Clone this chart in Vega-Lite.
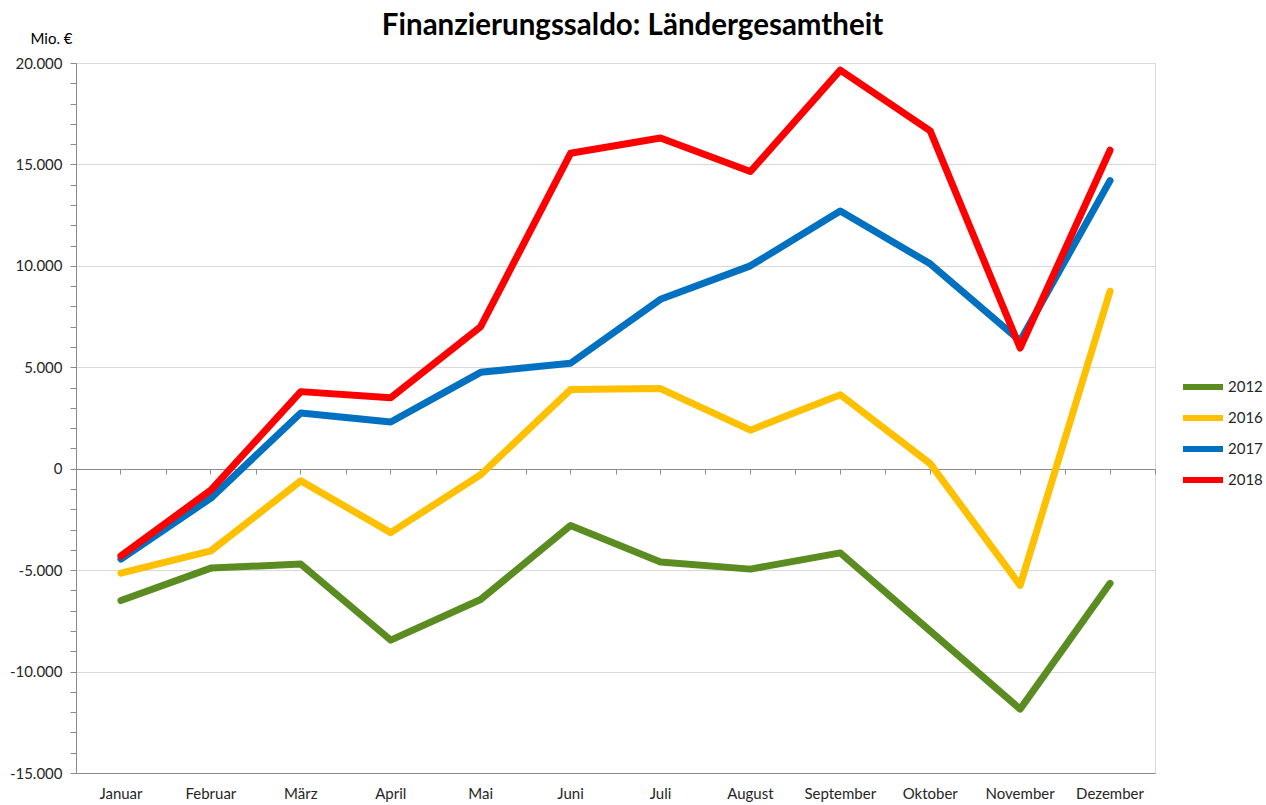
{
  "$schema": "https://vega.github.io/schema/vega-lite/v6.json",
  "width": 1079,
  "height": 710,
  "autosize": {"type": "none"},
  "padding": {"left": 76, "top": 63, "right": 111, "bottom": 32},
  "background": "white",
  "title": {
    "text": "Finanzierungssaldo: Ländergesamtheit",
    "font": "Lato",
    "fontSize": 29.5,
    "fontWeight": "bold",
    "color": "#000000",
    "anchor": "middle",
    "dx": 17,
    "offset": -33,
    "baseline": "alphabetic"
  },
  "config": {
    "view": {"stroke": "#d9d9d9", "strokeWidth": 1},
    "font": "Lato"
  },
  "data": {
    "values": [
      {"month": "Januar", "year": "2012", "value": -6500},
      {"month": "Februar", "year": "2012", "value": -4900},
      {"month": "März", "year": "2012", "value": -4700},
      {"month": "April", "year": "2012", "value": -8450},
      {"month": "Mai", "year": "2012", "value": -6450},
      {"month": "Juni", "year": "2012", "value": -2800},
      {"month": "Juli", "year": "2012", "value": -4600},
      {"month": "August", "year": "2012", "value": -4950},
      {"month": "September", "year": "2012", "value": -4150},
      {"month": "Oktober", "year": "2012", "value": -8000},
      {"month": "November", "year": "2012", "value": -11850},
      {"month": "Dezember", "year": "2012", "value": -5650},
      {"month": "Januar", "year": "2016", "value": -5150},
      {"month": "Februar", "year": "2016", "value": -4050},
      {"month": "März", "year": "2016", "value": -600},
      {"month": "April", "year": "2016", "value": -3150},
      {"month": "Mai", "year": "2016", "value": -300},
      {"month": "Juni", "year": "2016", "value": 3900},
      {"month": "Juli", "year": "2016", "value": 3950},
      {"month": "August", "year": "2016", "value": 1900},
      {"month": "September", "year": "2016", "value": 3650},
      {"month": "Oktober", "year": "2016", "value": 250},
      {"month": "November", "year": "2016", "value": -5750},
      {"month": "Dezember", "year": "2016", "value": 8750},
      {"month": "Januar", "year": "2017", "value": -4450},
      {"month": "Februar", "year": "2017", "value": -1450},
      {"month": "März", "year": "2017", "value": 2750},
      {"month": "April", "year": "2017", "value": 2300},
      {"month": "Mai", "year": "2017", "value": 4750},
      {"month": "Juni", "year": "2017", "value": 5200},
      {"month": "Juli", "year": "2017", "value": 8350},
      {"month": "August", "year": "2017", "value": 10000},
      {"month": "September", "year": "2017", "value": 12700},
      {"month": "Oktober", "year": "2017", "value": 10100},
      {"month": "November", "year": "2017", "value": 6300},
      {"month": "Dezember", "year": "2017", "value": 14200},
      {"month": "Januar", "year": "2018", "value": -4300},
      {"month": "Februar", "year": "2018", "value": -1050},
      {"month": "März", "year": "2018", "value": 3800},
      {"month": "April", "year": "2018", "value": 3500},
      {"month": "Mai", "year": "2018", "value": 7000},
      {"month": "Juni", "year": "2018", "value": 15550},
      {"month": "Juli", "year": "2018", "value": 16300},
      {"month": "August", "year": "2018", "value": 14650},
      {"month": "September", "year": "2018", "value": 19650},
      {"month": "Oktober", "year": "2018", "value": 16650},
      {"month": "November", "year": "2018", "value": 5950},
      {"month": "Dezember", "year": "2018", "value": 15700}
    ]
  },
  "layer": [
    {
      "mark": {"type": "point", "opacity": 0},
      "encoding": {
        "x": {
          "field": "month",
          "type": "nominal",
          "sort": ["Januar", "Februar", "März", "April", "Mai", "Juni", "Juli", "August", "September", "Oktober", "November", "Dezember"],
          "scale": {"type": "band", "paddingInner": 0, "paddingOuter": 0},
          "axis": {
            "orient": "bottom",
            "offset": -304,
            "labels": false,
            "title": null,
            "grid": false,
            "domain": true,
            "domainColor": "#8c8c8c",
            "domainWidth": 1,
            "ticks": true,
            "tickBand": "extent",
            "tickSize": 5,
            "tickColor": "#8c8c8c"
          }
        }
      }
    },
    {
      "mark": {"type": "point", "opacity": 0},
      "encoding": {
        "x": {
          "field": "month",
          "type": "nominal",
          "sort": ["Januar", "Februar", "März", "April", "Mai", "Juni", "Juli", "August", "September", "Oktober", "November", "Dezember"],
          "scale": {"type": "band", "paddingInner": 0, "paddingOuter": 0},
          "axis": {
            "orient": "bottom",
            "offset": -304,
            "labels": false,
            "title": null,
            "grid": false,
            "domain": false,
            "ticks": true,
            "tickBand": "center",
            "tickSize": 5,
            "tickColor": "#8c8c8c"
          }
        }
      }
    },
    {
      "mark": {"type": "line", "strokeWidth": 7, "strokeCap": "round", "strokeJoin": "round"},
      "encoding": {
        "x": {
          "field": "month",
          "type": "nominal",
          "sort": ["Januar", "Februar", "März", "April", "Mai", "Juni", "Juli", "August", "September", "Oktober", "November", "Dezember"],
          "scale": {"type": "band", "paddingInner": 0, "paddingOuter": 0},
          "axis": {
            "orient": "bottom",
            "title": null,
            "labelAngle": 0,
            "labelFont": "Lato",
            "labelFontSize": 15,
            "labelColor": "#262626",
            "labelPadding": 13,
            "ticks": false,
            "grid": false,
            "domain": true,
            "domainColor": "#8c8c8c"
          }
        },
        "y": {
          "field": "value",
          "type": "quantitative",
          "scale": {"domain": [-15000, 20000], "nice": false, "zero": false},
          "axis": {
            "values": [-15000, -14000, -13000, -12000, -11000, -10000, -9000, -8000, -7000, -6000, -5000, -4000, -3000, -2000, -1000, 0, 1000, 2000, 3000, 4000, 5000, 6000, 7000, 8000, 9000, 10000, 11000, 12000, 13000, 14000, 15000, 16000, 17000, 18000, 19000, 20000],
            "labelExpr": "datum.value % 5000 === 0 ? (datum.value < 0 ? '-' : '') + replace(format(abs(datum.value), ','), ',', '.') : ''",
            "labelFont": "Lato",
            "labelFontSize": 15,
            "labelColor": "#262626",
            "labelPadding": 8,
            "tickSize": 6,
            "tickColor": "#8c8c8c",
            "domainColor": "#8c8c8c",
            "grid": true,
            "gridColor": {"condition": {"test": "datum.value === 0", "value": "#8c8c8c"}, "value": "#d9d9d9"},
            "gridOpacity": {"condition": {"test": "datum.value % 5000 !== 0", "value": 0}, "value": 1},
            "title": "Mio. €",
            "titleAngle": 0,
            "titleAlign": "right",
            "titleBaseline": "alphabetic",
            "titleX": -4,
            "titleY": -20,
            "titleFont": "Lato",
            "titleFontSize": 15,
            "titleFontWeight": "normal",
            "titleColor": "#000000"
          }
        },
        "color": {
          "field": "year",
          "type": "nominal",
          "scale": {"domain": ["2012", "2016", "2017", "2018"], "range": ["#5B8C22", "#FFC000", "#0070C0", "#FF0000"]},
          "legend": {
            "orient": "none",
            "legendX": 1114,
            "legendY": 311,
            "title": null,
            "padding": 0,
            "symbolType": "M-2,0H2",
            "symbolSize": 400,
            "symbolStrokeWidth": 6,
            "labelFont": "Lato",
            "labelFontSize": 15,
            "labelColor": "#262626",
            "labelOffset": 12,
            "rowPadding": 6
          }
        },
        "order": {"field": "year"}
      }
    }
  ],
  "resolve": {"scale": {"x": "independent"}}
}
